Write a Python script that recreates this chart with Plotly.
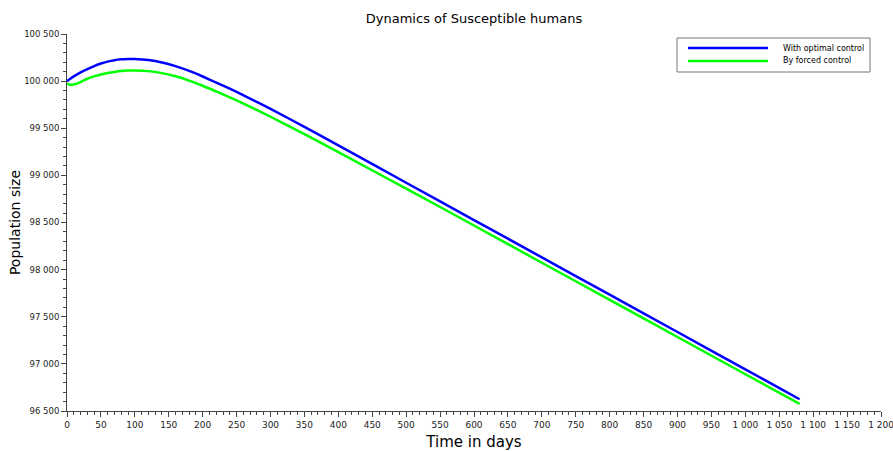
import plotly.graph_objects as go

days = [0, 5, 10, 20, 30, 40, 50, 60, 70, 80, 90, 100, 120, 140, 160, 180, 200, 225, 250, 275, 300, 350, 400, 500, 600, 700, 800, 900, 1000, 1080]

optimal = [100000, 100026, 100050, 100092, 100128, 100160, 100187, 100207, 100222, 100231, 100235, 100234, 100223, 100198, 100159, 100108, 100049, 99969, 99885, 99797, 99706, 99515, 99318, 98922, 98526, 98130, 97734, 97338, 96942, 96625]

forced = [99972, 99962, 99965, 99990, 100025, 100050, 100070, 100086, 100098, 100107, 100112, 100114, 100106, 100085, 100052, 100006, 99951, 99875, 99795, 99710, 99622, 99438, 99246, 98860, 98468, 98073, 97680, 97285, 96890, 96576]

series_names = ["With optimal control", "By forced control"]
series_colors = ["#0000ff", "#00ff00"]
title_text = "Dynamics of Susceptible humans"
x_title = "Time in days"
y_title = "Population size"

W, H = 893, 451
L, R, T, B = 67, 12, 34, 40
pw, ph = W - L - R, H - T - B

def px_x(p):
    return (p - L) / pw

def px_y(p):
    return (H - B - p) / ph

fig = go.Figure()
for name, vals, col in zip(series_names, [optimal, forced], series_colors):
    fig.add_trace(go.Scatter(x=days, y=vals, mode="lines", name=name, showlegend=False,
                             line=dict(color=col, width=2.5, shape="spline", smoothing=0.6)))

font_family = "DejaVu Sans"

# custom legend box (paper coordinates)
shapes = [dict(type="rect", xref="paper", yref="paper",
               x0=px_x(677), x1=px_x(870), y0=px_y(72), y1=px_y(38),
               line=dict(color="#777777", width=1), fillcolor="white", layer="above")]
annotations = []
for i, (name, col) in enumerate(zip(series_names, series_colors)):
    yy = 48 + i * 13
    shapes.append(dict(type="line", xref="paper", yref="paper",
                       x0=px_x(688), x1=px_x(768), y0=px_y(yy), y1=px_y(yy),
                       line=dict(color=col, width=2.5), layer="above"))
    annotations.append(dict(text=name, xref="paper", yref="paper", x=px_x(781), y=px_y(yy),
                            xanchor="left", yanchor="middle", showarrow=False,
                            font=dict(size=8, family=font_family, color="#000")))

fig.update_layout(
    width=W, height=H,
    margin=dict(l=L, r=R, t=T, b=B),
    paper_bgcolor="white", plot_bgcolor="white",
    separators=". ",
    font=dict(family=font_family, color="#000000"),
    title=dict(text=title_text, x=(L + W - R) / 2 / W, xanchor="center", y=1 - 18 / H, yanchor="middle",
               font=dict(size=13, family=font_family, color="#000")),
    showlegend=False,
    shapes=shapes,
    annotations=annotations,
)
fig.update_xaxes(
    range=[0, 1200], tickmode="linear", tick0=0, dtick=50, tickformat=",d",
    showgrid=False, zeroline=False, showline=True, linecolor="#444", linewidth=1,
    ticks="outside", ticklen=5, tickcolor="#444", tickfont=dict(size=9, color="#222"),
    ticklabeloverflow="allow",
    minor=dict(ticks="outside", ticklen=3, dtick=10, tickcolor="#444", showgrid=False),
    title=dict(text=x_title, font=dict(size=15), standoff=7), automargin=False,
)
fig.update_yaxes(
    range=[96500, 100500], tickmode="linear", tick0=96500, dtick=500, tickformat=",d",
    showgrid=False, zeroline=False, showline=True, linecolor="#444", linewidth=1,
    ticks="outside", ticklen=5, tickcolor="#444", tickfont=dict(size=8.5, color="#222"),
    ticklabeloverflow="allow",
    minor=dict(ticks="outside", ticklen=3, dtick=100, tickcolor="#444", showgrid=False),
    title=dict(text=y_title, font=dict(size=14), standoff=0), automargin=False,
)

fig.write_html("out.html", config={"displayModeBar": False},
               post_script="document.body.style.margin='0';document.body.style.overflow='hidden';")
